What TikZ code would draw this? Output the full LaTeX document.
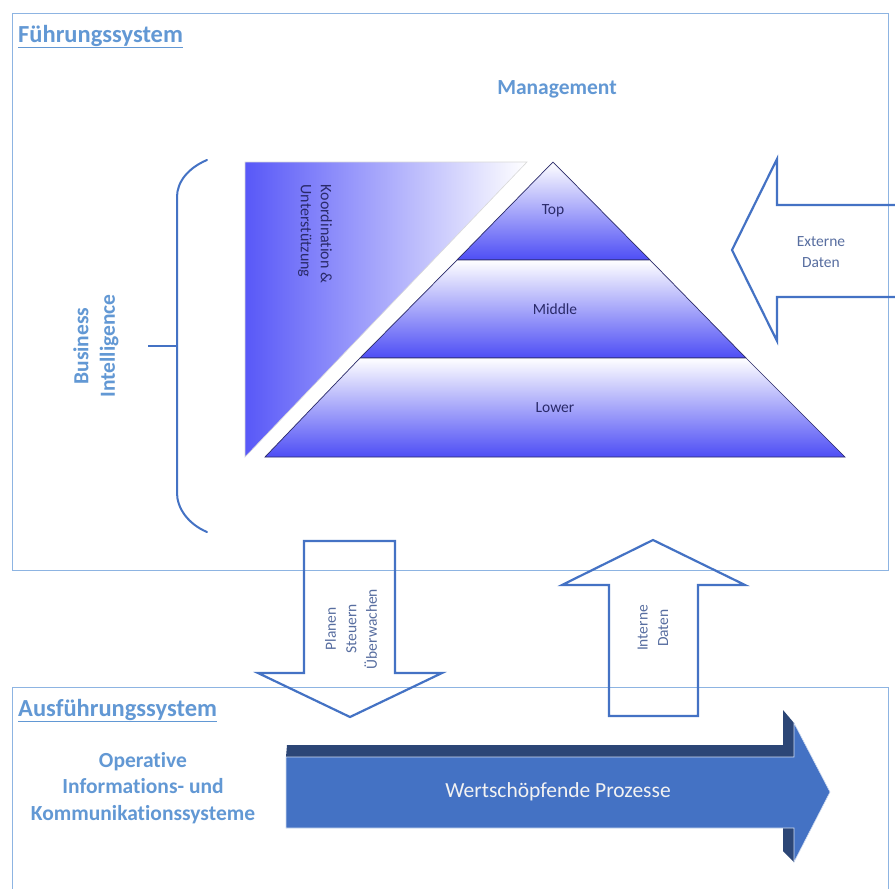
\documentclass[tikz,border=0pt]{standalone}
\usepackage{fontspec}
\setmainfont{Carlito}[Ligatures=NoCommon]
\definecolor{headblue}{RGB}{98,152,212}
\definecolor{framecol}{RGB}{141,180,226}
\definecolor{lineblue}{RGB}{68,114,196}
\definecolor{labcol}{RGB}{88,110,160}
\definecolor{navy}{RGB}{42,42,105}
\definecolor{pyrblue}{RGB}{78,78,245}
\definecolor{triblue}{RGB}{88,88,248}
\definecolor{procfront}{RGB}{68,114,196}
\definecolor{procdark}{RGB}{44,70,118}
\begin{document}
\begin{tikzpicture}[x=1pt,y=-1pt,
  frame/.style={draw=framecol,line width=0.8pt},
  title/.style={anchor=base west,inner sep=0pt,text=headblue,font=\fontsize{24.5}{29}\selectfont\bfseries},
  heading/.style={inner sep=0pt,text=headblue,align=center,font=\fontsize{21.5}{26.5}\selectfont\bfseries},
  blockarrow/.style={draw=lineblue,line width=2.2pt,line join=miter},
  small/.style={inner sep=0pt,text=labcol,align=center,font=\fontsize{15.5}{20.5}\selectfont},
  level/.style={draw=navy,line width=0.7pt,top color=white,middle color=pyrblue!35,bottom color=pyrblue},
  levellabel/.style={inner sep=0pt,text=navy,font=\fontsize{15.5}{19}\selectfont}]
\clip (0,0) rectangle (895,889);
\fill[white] (0,0) rectangle (895,889);

% system frames
\draw[frame] (12,13) rectangle (888,570);
\draw[frame] (12,687) rectangle (888,900);
\node[title] (fs) at (18,42) {\underline{Führungssystem}};
\node[title] (as) at (18,716) {\underline{Ausführungssystem}};

% management heading
\node[heading] (mgmt) at (557,89) {Management};

% coordination wedge
\shade[left color=triblue,middle color=triblue!8,right color=white,draw=black!15,line width=0.6pt]
  (245,162) -- (527,162) -- (245,457) -- cycle;
\node[inner sep=0pt,rotate=-90,align=left,text=navy,font=\fontsize{16}{20}\selectfont] (koord) at (315,234)
  {Koordination \&\\Unterstützung};

% management pyramid
\shade[level] (553,162) -- (650,260) -- (457,260) -- cycle;
\shade[level] (457,260) -- (650,260) -- (746,358) -- (360,358) -- cycle;
\shade[level] (360,358) -- (746,358) -- (845,457) -- (265,457) -- cycle;
\node[levellabel] (top) at (553,211) {Top};
\node[levellabel] (mid) at (555,309) {Middle};
\node[levellabel] (low) at (555,408) {Lower};

% business intelligence brace
\draw[lineblue,line width=2pt,line cap=round]
  (207,160) .. controls (188,168) and (177,182) .. (177,197) -- (177,493)
  .. controls (177,508) and (188,524) .. (207,532);
\draw[lineblue,line width=2pt] (177,346) -- (148,346);
\node[heading,rotate=90] (bi) at (96,346) {Business\\Intelligence};

% external data arrow
\draw[blockarrow] (732,250) -- (777,159) -- (777,205) -- (910,205) -- (910,297)
  -- (777,297) -- (777,341) -- cycle;
\node[small] (ext) at (821,252) {Externe\\Daten};

% plan/steer/monitor arrow (down)
\draw[blockarrow] (304,541) -- (395,541) -- (395,673) -- (442,673) -- (350,717)
  -- (258,673) -- (304,673) -- cycle;
\node[small,rotate=90] (pso) at (351,629) {Planen\\Steuern\\Überwachen};

% internal data arrow (up)
\draw[blockarrow] (653,540) -- (745,585) -- (698,585) -- (698,716) -- (609,716)
  -- (609,585) -- (562,585) -- cycle;
\node[small,rotate=90] (int) at (653,628) {Interne\\Daten};

% operative systems
\node[heading] (ops) at (143,788) {Operative\\Informations- und\\Kommunikationssysteme};

% value-adding process arrow (3D)
\fill[procdark] (287,745) -- (783,745) -- (783,710) -- (794,723) -- (794,757) -- (286,757) -- cycle;
\fill[procdark] (783,828) -- (794,828) -- (794,862) -- (783,851) -- cycle;
\draw[fill=procfront,draw=white!75!procfront,line width=0.6pt]
  (286,757) -- (794,757) -- (794,723) -- (830,792) -- (794,862) -- (794,828) -- (286,828) -- cycle;
\node[inner sep=0pt,text=white!95!black,font=\fontsize{21.5}{26}\selectfont] (proc) at (558,792) {Wertschöpfende Prozesse};
\end{tikzpicture}
\end{document}
